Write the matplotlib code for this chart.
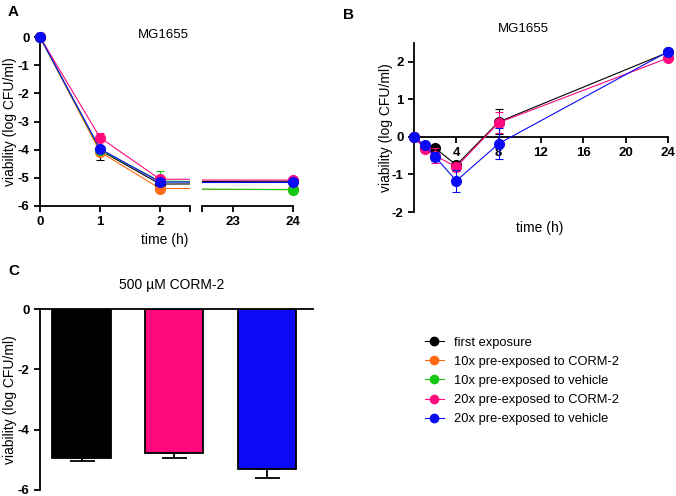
import numpy as np
import matplotlib
matplotlib.use("Agg")
from matplotlib import pyplot as plt
from matplotlib.lines import Line2D

plt.rcParams['font.family'] = ['Liberation Sans', 'DejaVu Sans']
plt.rcParams['font.size'] = 9

names = ["first exposure", "10x pre-exposed to CORM-2", "10x pre-exposed to vehicle",
         "20x pre-exposed to CORM-2", "20x pre-exposed to vehicle"]
colors = ["#000000", "#FF6A13", "#14C814", "#FF0A7E", "#0A0AF5"]

# panel A
t_a = [0, 1, 2, 24]
a_vals = [[0, -4.02, -5.22, -5.12],
          [0, -4.08, -5.38, -5.38],
          [0, -4.00, -5.12, -5.42],
          [0, -3.57, -5.05, -5.08],
          [0, -3.97, -5.15, -5.15]]
a_err_lo = [[0, 0.33, 0.05, 0.03], [0, 0.05, 0.05, 0.03], [0, 0.05, 0.05, 0.03],
            [0, 0.05, 0.05, 0.03], [0, 0.05, 0.05, 0.03]]
a_err_hi = [[0, 0.05, 0.05, 0.03], [0, 0.05, 0.05, 0.03], [0, 0.05, 0.38, 0.03],
            [0, 0.15, 0.05, 0.03], [0, 0.05, 0.05, 0.03]]

# panel B (black, pink, blue)
t_b = [0, 1, 2, 4, 8, 24]
b_idx = [0, 3, 4]
b_vals = [[0, -0.27, -0.30, -0.75, 0.40, 2.25],
          [0, -0.32, -0.50, -0.80, 0.38, 2.10],
          [0, -0.22, -0.53, -1.17, -0.18, 2.27]]
b_err = [[0, 0.05, 0.05, 0.05, 0.33, 0.03],
         [0, 0.08, 0.20, 0.10, 0.28, 0.03],
         [0, 0.05, 0.12, 0.30, 0.42, 0.03]]

# panel C
c_vals = [-4.95, -4.78, -5.32]
c_err = [0.10, 0.17, 0.28]
c_colors = ["#000000", "#FF0A7E", "#0A0AF5"]

fig = plt.figure(figsize=(6.76, 4.96), dpi=100)
W, H = 676, 496


def ax_px(x0, y0, x1, y1):
    return fig.add_axes([x0 / W, 1 - y1 / H, (x1 - x0) / W, (y1 - y0) / H])


def style(ax):
    for s in ['top', 'right']:
        ax.spines[s].set_visible(False)
    for s in ax.spines.values():
        s.set_linewidth(1.3)
    ax.tick_params(width=1.3, length=4, direction='out', labelsize=9.5)
    for lab in ax.get_xticklabels() + ax.get_yticklabels():
        lab.set_fontweight('bold')


# ---- A ----
axL = ax_px(40, 37, 190, 206)
axR = ax_px(202, 37, 293, 206)
for ax, lo, hi in [(axL, 0, 2.5), (axR, 22.48, 24)]:
    for i in range(5):
        ax.plot(t_a, a_vals[i], color=colors[i], lw=0.8)
        tt = [t for t in t_a if lo <= t <= hi]
        vv = [v for t, v in zip(t_a, a_vals[i]) if lo <= t <= hi]
        el = [e for t, e in zip(t_a, a_err_lo[i]) if lo <= t <= hi]
        eh = [e for t, e in zip(t_a, a_err_hi[i]) if lo <= t <= hi]
        ax.errorbar(tt, vv, yerr=[el, eh], fmt='o', color=colors[i], ms=7,
                    elinewidth=0.8, capsize=3, capthick=0.8, clip_on=False, zorder=3 + i)
    ax.set_xlim(lo, hi)
    ax.set_ylim(-6, 0)
axL.set_xticks([0, 1, 2, 2.5])
axL.set_xticklabels(['0', '1', '2', ''])
axL.set_yticks(range(-6, 1))
axL.set_yticklabels([str(v) for v in range(-6, 1)])
axR.set_xticks([22.48, 23, 24])
axR.set_xticklabels(['', '23', '24'])
axR.set_yticks([])
style(axL)
style(axR)
axR.spines['left'].set_visible(False)
axL.set_ylabel("viability (log CFU/ml)", fontsize=10)
axL.yaxis.set_label_coords((17 - 40) / 150, 0.5)
fig.text(165 / W, 1 - 240 / H, "time (h)", ha='center', va='center', fontsize=10)
fig.text(163 / W, 1 - 35 / H, "MG1655", ha='center', va='center', fontsize=9.5)
fig.text(8 / W, 1 - 12 / H, "A", fontsize=11, fontweight='bold', va='center')

# ---- B ----
axB = ax_px(414, 43, 668, 212)
for k, i in enumerate(b_idx):
    axB.errorbar(t_b, b_vals[k], yerr=[b_err[k], b_err[k]], fmt='-o', color=colors[i],
                 ms=7, lw=0.8, elinewidth=0.8, capsize=3, capthick=0.8, clip_on=False, zorder=3 + k)
axB.set_xlim(0, 24)
axB.set_ylim(-2, 2.5)
axB.spines['bottom'].set_position(('data', 0))
axB.set_xticks(range(0, 25, 4))
axB.set_xticklabels([''] + [str(v) for v in range(4, 25, 4)])
axB.set_yticks([-2, -1, 0, 1, 2])
axB.set_yticklabels(['-2', '-1', '0', '1', '2'])
style(axB)
axB.set_ylabel("viability (log CFU/ml)", fontsize=10)
axB.yaxis.set_label_coords((393 - 414) / 254, 0.5)
fig.text(540 / W, 1 - 228 / H, "time (h)", ha='center', va='center', fontsize=10)
fig.text(523 / W, 1 - 29 / H, "MG1655", ha='center', va='center', fontsize=9.5)
fig.text(343 / W, 1 - 15 / H, "B", fontsize=11, fontweight='bold', va='center')

# ---- C ----
axC = ax_px(40, 309, 313, 490)
xc = np.arange(3)
axC.bar(xc, c_vals, width=0.63, color=c_colors, edgecolor='black', linewidth=1.3, zorder=2)
axC.errorbar(xc, c_vals, yerr=[c_err, [0, 0, 0]], fmt='none', ecolor='black',
             elinewidth=1.3, capsize=9, capthick=1.3, zorder=1)
axC.set_xlim(-0.45, 2.5)
axC.set_ylim(-6, 0)
axC.set_xticks([])
axC.set_yticks([-6, -4, -2, 0])
axC.set_yticklabels(['-6', '-4', '-2', '0'])
style(axC)
axC.spines['bottom'].set_position(('data', 0))
axC.set_ylabel("viability (log CFU/ml)", fontsize=10)
axC.yaxis.set_label_coords((17 - 40) / 273, 0.5)
fig.text(172 / W, 1 - 285 / H, "500 µM CORM-2", ha='center', va='center', fontsize=10)
fig.text(8 / W, 1 - 271 / H, "C", fontsize=11, fontweight='bold', va='center')

handles = [Line2D([0], [0], color=c, lw=0.8, marker='o', ms=6) for c in colors]
fig.legend(handles, names, loc='upper left', bbox_to_anchor=(413 / W, 1 - 325 / H),
           frameon=False, fontsize=9.3, handlelength=1.5, labelspacing=0.55, handletextpad=0.8)

fig.savefig("out.png", dpi=100)
